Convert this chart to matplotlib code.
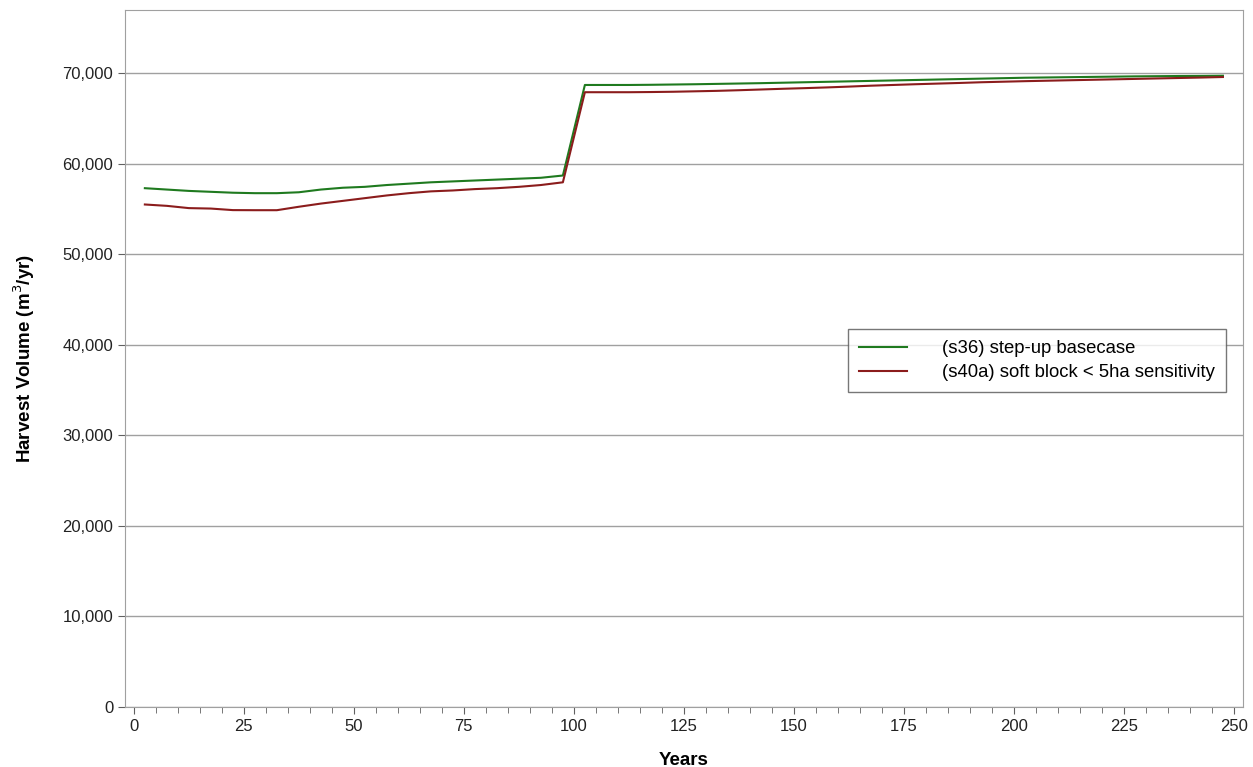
import numpy as np
import matplotlib
matplotlib.use('Agg')
import matplotlib.pyplot as plt
from matplotlib.ticker import FuncFormatter, MultipleLocator

# Harvest volume by period midpoint (5-year periods)
years = [2.5 + 5 * i for i in range(50)]

basecase = [57300, 57150, 57000, 56900, 56800, 56750, 56750, 56850, 57150, 57350,
            57450, 57650, 57800, 57950, 58050, 58150, 58250, 58350, 58450, 58700,
            68700, 68700, 68700, 68720, 68750, 68780, 68820, 68860, 68900, 68950,
            69000, 69050, 69100, 69150, 69200, 69250, 69300, 69350, 69400, 69450,
            69500, 69530, 69560, 69590, 69620, 69650, 69670, 69690, 69700, 69720]

softblock = [55500, 55350, 55100, 55050, 54880, 54870, 54870, 55250, 55600, 55900,
             56200, 56500, 56750, 56950, 57050, 57200, 57300, 57450, 57650, 57950,
             67900, 67900, 67900, 67920, 67950, 68000, 68050, 68120, 68200, 68280,
             68350, 68430, 68520, 68620, 68700, 68780, 68850, 68920, 69000, 69060,
             69120, 69170, 69220, 69270, 69320, 69370, 69420, 69470, 69520, 69580]

labels = ['(s36) step-up basecase', '(s40a) soft block < 5ha sensitivity']

plt.rcParams['font.family'] = ['Liberation Sans', 'DejaVu Sans']

fig = plt.figure(figsize=(12.53, 7.67), dpi=100)
ax = fig.add_axes([0.0998, 0.0782, 0.892, 0.909])

ax.plot(years, basecase, color='#1f7a1f', lw=1.5, label=labels[0], zorder=3)
ax.plot(years, softblock, color='#8b1c1c', lw=1.5, label=labels[1], zorder=3)

ax.set_xlim(-2, 252)
ax.set_ylim(0, 77000)
ax.xaxis.set_major_locator(MultipleLocator(25))
ax.xaxis.set_minor_locator(MultipleLocator(5))
ax.yaxis.set_major_locator(MultipleLocator(10000))
ax.yaxis.set_major_formatter(FuncFormatter(lambda v, p: f'{int(v):,}'))

ax.grid(axis='y', color='#a0a0a0', lw=1)
ax.set_axisbelow(True)
for s in ax.spines.values():
    s.set_color('#a0a0a0')
ax.tick_params(axis='both', which='major', colors='#606060', labelcolor='#222222',
               labelsize=12, length=5)
ax.tick_params(axis='x', which='minor', colors='#606060', length=4)

ax.set_xlabel('Years', fontsize=13.5, fontweight='bold', labelpad=13)
ax.set_ylabel('Harvest Volume (m$^3$/yr)', fontsize=13.5, fontweight='bold', labelpad=18)

leg = ax.legend(loc='upper left', bbox_to_anchor=(0.6467, 0.5423), fontsize=13.3,
                frameon=True, fancybox=False, edgecolor='#555555',
                handlelength=2.6, handletextpad=1.9, borderpad=0.6,
                labelspacing=0.4, borderaxespad=0)
leg.get_frame().set_linewidth(1.0)

fig.savefig('out.png', dpi=100, facecolor='white')
